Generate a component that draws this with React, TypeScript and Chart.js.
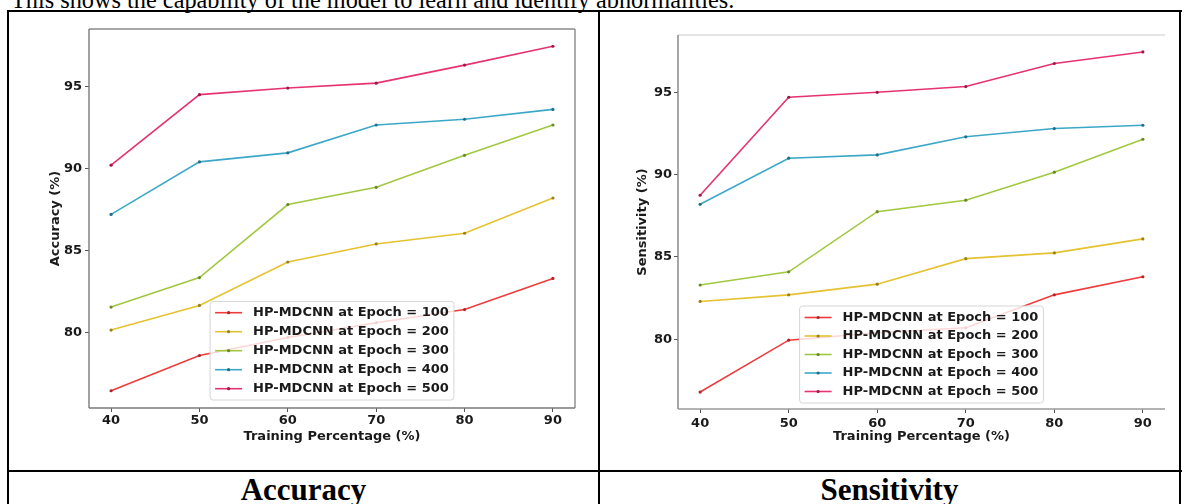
import React, { useEffect, useRef } from 'react';
import { Chart, registerables } from 'chart.js';

Chart.register(...registerables);

// ---------- data ----------
const trainingPct = [40, 50, 60, 70, 80, 90];
const xTickValues = [40, 50, 60, 70, 80, 90];
const xRange = [37.5, 92.5];

const seriesLabels = [
  'HP-MDCNN at Epoch = 100',
  'HP-MDCNN at Epoch = 200',
  'HP-MDCNN at Epoch = 300',
  'HP-MDCNN at Epoch = 400',
  'HP-MDCNN at Epoch = 500',
];
const lineColors = ['#ef3b3b', '#e5c230', '#a0c840', '#3ba8c8', '#e6336e'];
const markerColors = ['#b02525', '#9a8015', '#6a8a20', '#1f6f88', '#a01848'];

// Accuracy (%)
const accEpoch100 = [76.45, 78.6, 79.7, 80.6, 81.4, 83.3];
const accEpoch200 = [80.15, 81.65, 84.3, 85.4, 86.05, 88.2];
const accEpoch300 = [81.55, 83.35, 87.8, 88.85, 90.8, 92.65];
const accEpoch400 = [87.2, 90.4, 90.95, 92.65, 93.0, 93.6];
const accEpoch500 = [90.2, 94.5, 94.9, 95.2, 96.3, 97.45];
const accYTicks = [80, 85, 90, 95];
const accYRange = [75.4, 98.5];

// Sensitivity (%)
const senEpoch100 = [76.8, 79.95, 80.4, 80.7, 82.7, 83.8];
const senEpoch200 = [82.3, 82.7, 83.35, 84.9, 85.25, 86.1];
const senEpoch300 = [83.3, 84.1, 87.75, 88.45, 90.15, 92.15];
const senEpoch400 = [88.2, 91.0, 91.2, 92.3, 92.8, 93.0];
const senEpoch500 = [88.75, 94.7, 95.0, 95.35, 96.75, 97.45];
const senYTicks = [80, 85, 90, 95];
const senYRange = [75.77, 98.48];

const FONT = '"DejaVu Sans", "Noto Sans", sans-serif';

type PanelProps = {
  series: number[][];
  yTitle: string;
  yTicks: number[];
  yRange: number[];
  box: { left: number; top: number; width: number; height: number };
  pad: { left: number; top: number; right: number };
  yWidth: number;
  xHeight: number;
  xTitlePad: number;
  xTickPad: number;
  yTickPad: number;
  spines: { left?: string; bottom?: string; top?: string; right?: string };
  legend: { rowH: number; padY: number; bottomGap: number };
};

function Panel(p: PanelProps) {
  const ref = useRef<HTMLCanvasElement | null>(null);

  useEffect(() => {
    if (!ref.current) return;

    const spinePlugin = {
      id: 'spines',
      afterDatasetsDraw(chart: any) {
        const { ctx, chartArea: a } = chart;
        ctx.save();
        ctx.lineWidth = 1.4;
        const seg = (c: string | undefined, x1: number, y1: number, x2: number, y2: number) => {
          if (!c) return;
          ctx.strokeStyle = c;
          ctx.beginPath();
          ctx.moveTo(x1, y1);
          ctx.lineTo(x2, y2);
          ctx.stroke();
        };
        seg(p.spines.top, a.left, a.top, a.right, a.top);
        seg(p.spines.right, a.right, a.top, a.right, a.bottom);
        seg(p.spines.left, a.left, a.top, a.left, a.bottom);
        seg(p.spines.bottom, a.left, a.bottom, a.right, a.bottom);
        ctx.restore();
      },
    };

    const legendPlugin = {
      id: 'mplLegend',
      afterDraw(chart: any) {
        const { ctx, chartArea: a } = chart;
        const ds = chart.data.datasets;
        ctx.save();
        ctx.font = `bold 13px ${FONT}`;
        const textW = Math.max(...ds.map((d: any) => ctx.measureText(d.label).width));
        const padX = 5;
        const handleLen = 27;
        const gap = 11;
        const w = padX + handleLen + gap + textW + padX;
        const h = p.legend.rowH * (ds.length - 1) + 2 * p.legend.padY;
        const x = (a.left + a.right) / 2 - w / 2;
        const y = a.bottom - p.legend.bottomGap - h;
        const r = 3;
        ctx.beginPath();
        ctx.moveTo(x + r, y);
        ctx.lineTo(x + w - r, y);
        ctx.quadraticCurveTo(x + w, y, x + w, y + r);
        ctx.lineTo(x + w, y + h - r);
        ctx.quadraticCurveTo(x + w, y + h, x + w - r, y + h);
        ctx.lineTo(x + r, y + h);
        ctx.quadraticCurveTo(x, y + h, x, y + h - r);
        ctx.lineTo(x, y + r);
        ctx.quadraticCurveTo(x, y, x + r, y);
        ctx.closePath();
        ctx.fillStyle = 'rgba(255,255,255,0.8)';
        ctx.fill();
        ctx.strokeStyle = '#d6d6d6';
        ctx.lineWidth = 1;
        ctx.stroke();
        ds.forEach((d: any, i: number) => {
          const cy = y + p.legend.padY + i * p.legend.rowH;
          ctx.strokeStyle = d.borderColor;
          ctx.lineWidth = 1.6;
          ctx.beginPath();
          ctx.moveTo(x + padX, cy);
          ctx.lineTo(x + padX + handleLen, cy);
          ctx.stroke();
          ctx.fillStyle = d.pointBackgroundColor;
          ctx.beginPath();
          ctx.arc(x + padX + handleLen / 2, cy, 1.6, 0, Math.PI * 2);
          ctx.fill();
          ctx.fillStyle = '#1a1a1a';
          ctx.textBaseline = 'middle';
          ctx.textAlign = 'left';
          ctx.fillText(d.label, x + padX + handleLen + gap, cy);
        });
        ctx.restore();
      },
    };

    const chart = new Chart(ref.current, {
      type: 'line',
      data: {
        datasets: p.series.map((vals, i) => ({
          label: seriesLabels[i],
          data: trainingPct.map((x, j) => ({ x, y: vals[j] })),
          borderColor: lineColors[i],
          backgroundColor: lineColors[i],
          pointBackgroundColor: markerColors[i],
          pointBorderWidth: 0,
          pointRadius: 1.6,
          borderWidth: 1.6,
          tension: 0,
          fill: false,
        })),
      },
      options: {
        responsive: false,
        animation: false,
        devicePixelRatio: 1,
        layout: { padding: { left: p.pad.left, top: p.pad.top, right: p.pad.right, bottom: 0 } },
        plugins: { legend: { display: false }, tooltip: { enabled: false } },
        scales: {
          x: {
            type: 'linear',
            min: xRange[0],
            max: xRange[1],
            afterBuildTicks: (axis: any) => {
              axis.ticks = xTickValues.map((v) => ({ value: v }));
            },
            afterFit: (s: any) => {
              s.height = p.xHeight;
            },
            grid: { drawOnChartArea: false, drawTicks: true, tickLength: 4, tickColor: '#555', lineWidth: 1 },
            border: { display: false },
            ticks: { color: '#1a1a1a', font: { family: FONT, size: 13, weight: 'bold' }, padding: p.xTickPad, maxRotation: 0 },
            title: {
              display: true,
              text: 'Training Percentage (%)',
              color: '#1a1a1a',
              font: { family: FONT, size: 13, weight: 'bold' },
              padding: { top: 0, bottom: p.xTitlePad },
            },
          },
          y: {
            type: 'linear',
            min: p.yRange[0],
            max: p.yRange[1],
            afterBuildTicks: (axis: any) => {
              axis.ticks = p.yTicks.map((v) => ({ value: v }));
            },
            afterFit: (s: any) => {
              s.width = p.yWidth;
            },
            grid: { drawOnChartArea: false, drawTicks: true, tickLength: 4, tickColor: '#555', lineWidth: 1 },
            border: { display: false },
            ticks: { color: '#1a1a1a', font: { family: FONT, size: 13, weight: 'bold' }, padding: p.yTickPad },
            title: {
              display: true,
              text: p.yTitle,
              color: '#1a1a1a',
              font: { family: FONT, size: 13, weight: 'bold' },
              padding: { top: 0, bottom: 0 },
            },
          },
        },
      } as any,
      plugins: [spinePlugin, legendPlugin],
    });
    return () => chart.destroy();
  }, []);

  return (
    <canvas
      ref={ref}
      width={p.box.width}
      height={p.box.height}
      style={{ position: 'absolute', left: p.box.left, top: p.box.top, width: p.box.width, height: p.box.height }}
    />
  );
}

const line = (s: React.CSSProperties): React.CSSProperties => ({ position: 'absolute', background: '#000', ...s });

const captionStyle: React.CSSProperties = {
  position: 'absolute',
  top: 474,
  textAlign: 'center',
  fontFamily: '"Liberation Serif", "Times New Roman", serif',
  fontWeight: 'bold',
  fontSize: 31,
  lineHeight: '31px',
  color: '#000',
  whiteSpace: 'nowrap',
};

export default function App() {
  return (
    <div
      style={{
        position: 'fixed',
        left: 0,
        top: 0,
        width: 1186,
        height: 504,
        background: '#fff',
        overflow: 'hidden',
      }}
    >
      <div
        style={{
          position: 'absolute',
          left: 11,
          top: -12,
          fontFamily: '"Liberation Serif", "Times New Roman", serif',
          fontSize: 24.3,
          lineHeight: '24px',
          whiteSpace: 'nowrap',
          color: '#000',
        }}
      >
        This shows the capability of the model to learn and identify abnormalities.
      </div>

      <Panel
        series={[accEpoch100, accEpoch200, accEpoch300, accEpoch400, accEpoch500]}
        yTitle="Accuracy (%)"
        yTicks={accYTicks}
        yRange={accYRange}
        box={{ left: 10, top: 13, width: 586, height: 455 }}
        pad={{ left: 38, top: 16, right: 21 }}
        yWidth={41}
        xHeight={60}
        xTitlePad={24}
        xTickPad={1}
        yTickPad={3}
        spines={{ left: '#7a7a7a', bottom: '#7a7a7a', top: '#8a8a8a', right: '#8a8a8a' }}
        legend={{ rowH: 19, padY: 11.3, bottomGap: 8 }}
      />
      <Panel
        series={[senEpoch100, senEpoch200, senEpoch300, senEpoch400, senEpoch500]}
        yTitle="Sensitivity (%)"
        yTicks={senYTicks}
        yRange={senYRange}
        box={{ left: 602, top: 13, width: 576, height: 455 }}
        pad={{ left: 33, top: 22, right: 13 }}
        yWidth={43}
        xHeight={59}
        xTitlePad={24}
        xTickPad={3}
        yTickPad={2}
        spines={{ left: '#808080', bottom: '#9a9a9a', top: '#dddddd' }}
        legend={{ rowH: 18.5, padY: 11.5, bottomGap: 6 }}
      />

      {/* table rules */}
      <div style={line({ left: 7, top: 10, width: 1175, height: 2 })} />
      <div style={line({ left: 7, top: 10, width: 2, height: 494 })} />
      <div style={line({ left: 1179, top: 10, width: 2, height: 494 })} />
      <div style={line({ left: 598, top: 10, width: 2, height: 494 })} />
      <div style={line({ left: 7, top: 470, width: 1175, height: 2 })} />

      <div style={{ ...captionStyle, left: 9, width: 589 }}>Accuracy</div>
      <div style={{ ...captionStyle, left: 600, width: 579 }}>Sensitivity</div>
    </div>
  );
}
